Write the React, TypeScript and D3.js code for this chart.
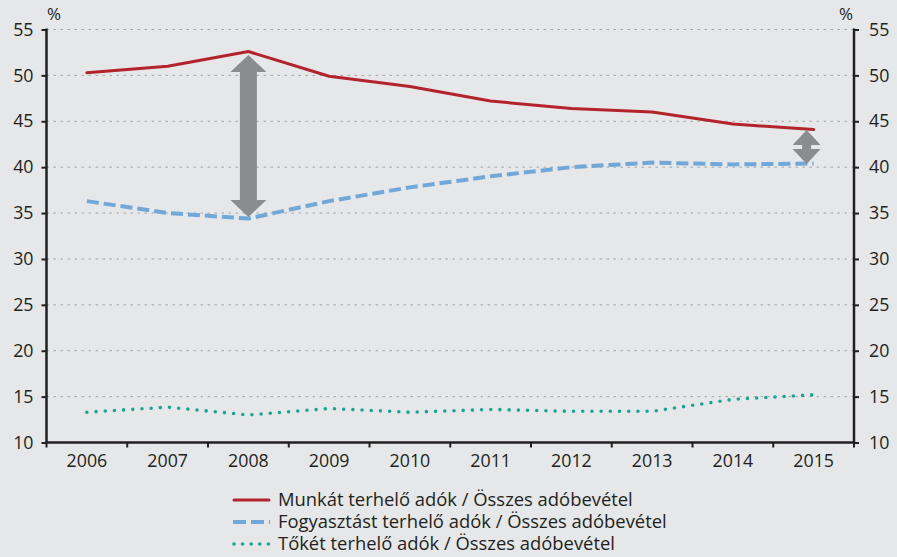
import React, { useEffect, useRef } from "react";
import * as d3 from "d3";

const years = ["2006", "2007", "2008", "2009", "2010", "2011", "2012", "2013", "2014", "2015"];
const munka = [50.3, 51.0, 52.6, 49.9, 48.8, 47.2, 46.4, 46.0, 44.7, 44.1];
const fogyasztas = [36.3, 35.0, 34.4, 36.3, 37.8, 39.0, 40.0, 40.5, 40.3, 40.4];
const toke = [13.3, 13.85, 13.0, 13.7, 13.3, 13.6, 13.4, 13.4, 14.7, 15.2];
const yTicks = [10, 15, 20, 25, 30, 35, 40, 45, 50, 55];
const seriesNames = [
	"Munkát terhelő adók / Összes adóbevétel",
	"Fogyasztást terhelő adók / Összes adóbevétel",
	"Tőkét terhelő adók / Összes adóbevétel",
];
// years where the gap between labour and consumption taxes is marked
const gapYears = ["2008", "2015"];

const W = 897;
const H = 557;
const FONT = "'Open Sans', 'DejaVu Sans', sans-serif";
const TXT = "#231f20";

const App = () => {
	const ref = useRef<SVGSVGElement>(null);

	useEffect(() => {
		const svg = d3.select(ref.current);
		svg.selectAll("*").remove();

		svg.append("rect").attr("width", W).attr("height", H).attr("fill", "#e6e7e8");

		const left = 46.5, right = 854, top = 29.5, bottom = 442.5;

		const x = d3.scaleBand<string>().domain(years).range([left, right]);
		const cx = (d: string) => (x(d) as number) + x.bandwidth() / 2;
		const y = d3.scaleLinear().domain([10, 55]).range([bottom, top]);

		// gridlines
		svg.append("g")
			.selectAll("line")
			.data(yTicks.filter(t => t > 10))
			.join("line")
			.attr("x1", left)
			.attr("x2", right)
			.attr("y1", d => y(d))
			.attr("y2", d => y(d))
			.attr("stroke", "#a3a4a6")
			.attr("stroke-width", 1)
			.attr("stroke-dasharray", "2.5 4.5");

		const gl = svg.append("g")
			.attr("transform", `translate(${left},0)`)
			.call(d3.axisLeft(y).tickValues(yTicks).tickSize(5).tickPadding(8));
		const gr = svg.append("g")
			.attr("transform", `translate(${right},0)`)
			.call(d3.axisRight(y).tickValues(yTicks).tickSize(5).tickPadding(10));
		const gb = svg.append("g")
			.attr("transform", `translate(0,${bottom})`)
			.call(d3.axisBottom(x).tickSize(0).tickPadding(12));
		gb.selectAll(".tick line").remove();
		// ticks sit on the category boundaries
		gb.selectAll(".btick")
			.data([...years.map(d => x(d) as number), right])
			.join("line")
			.attr("class", "btick")
			.attr("x1", d => d)
			.attr("x2", d => d)
			.attr("y1", 0)
			.attr("y2", 5)
			.attr("stroke", TXT)
			.attr("stroke-width", 2);

		[gl, gr, gb].forEach(g => {
			g.select(".domain").attr("stroke", TXT).attr("stroke-width", 2.5);
			g.selectAll(".tick line").attr("stroke", TXT).attr("stroke-width", 2);
			g.selectAll("text")
				.style("font-family", FONT)
				.style("font-size", "17.8px")
				.attr("fill", TXT);
		});
		gl.select(".domain").attr("d", `M0,${top - 1}V${bottom}`);
		gr.select(".domain").attr("d", `M0,${top - 1}V${bottom}`);
		gb.select(".domain").attr("d", `M${left},0H${right}`);

		["left", "right"].forEach(side => {
			svg.append("text")
				.attr("x", side === "left" ? 54 : 846)
				.attr("y", 20)
				.attr("text-anchor", "middle")
				.style("font-family", FONT)
				.style("font-size", "17px")
				.attr("fill", TXT)
				.text("%");
		});

		const styles = [
			{ color: "#b3232b", width: 3, dash: null as string | null, cap: "round" },
			{ color: "#6fa8d9", width: 4, dash: "12 5", cap: "butt" },
			{ color: "#19a596", width: 3.6, dash: "0 9.2", cap: "round" },
		];
		const allSeries = [munka, fogyasztas, toke];

		const line = d3.line<number>()
			.x((d, i) => cx(years[i]))
			.y(d => y(d));

		allSeries.forEach((s, i) => {
			const st = styles[i];
			const p = svg.append("path")
				.datum(s)
				.attr("fill", "none")
				.attr("stroke", st.color)
				.attr("stroke-width", st.width)
				.attr("stroke-linecap", st.cap)
				.attr("stroke-linejoin", "round")
				.attr("d", line);
			if (st.dash) p.attr("stroke-dasharray", st.dash);
		});

		// double-headed gap arrows
		const arrow = (xc: number, y1: number, y2: number, shaft: number, head: number, headH: number) => {
			const s = shaft / 2, h = head / 2;
			const d = `M${xc},${y1} L${xc + h},${y1 + headH} L${xc + s},${y1 + headH} L${xc + s},${y2 - headH} L${xc + h},${y2 - headH} L${xc},${y2} L${xc - h},${y2 - headH} L${xc - s},${y2 - headH} L${xc - s},${y1 + headH} L${xc - h},${y1 + headH} Z`;
			svg.append("path").attr("d", d).attr("fill", "#8b8c8f");
		};
		const i0 = years.indexOf(gapYears[0]);
		arrow(cx(gapYears[0]), y(munka[i0]) + 3.5, y(fogyasztas[i0]) - 1.5, 17, 36, 17);
		const i1 = years.indexOf(gapYears[1]);
		arrow(cx(gapYears[1]) - 7, y(munka[i1]) + 0.5, y(fogyasztas[i1]) + 0.5, 9, 28, 15);

		// legend
		const lg = svg.append("g");
		seriesNames.forEach((name, i) => {
			const st = styles[i];
			const ly = 500 + i * 22;
			const l = lg.append("line")
				.attr("x1", 234).attr("x2", 269)
				.attr("y1", ly).attr("y2", ly)
				.attr("stroke", st.color)
				.attr("stroke-width", st.width)
				.attr("stroke-linecap", "round");
			if (i === 1) l.attr("stroke-dasharray", "13 5").attr("stroke-linecap", "butt").attr("x1", 233).attr("x2", 270);
			if (i === 2) l.attr("stroke-dasharray", "0 8.6");
			lg.append("text")
				.attr("x", 278).attr("y", ly).attr("dy", "0.35em")
				.style("font-family", FONT)
				.style("font-size", "18.4px")
				.attr("fill", TXT)
				.text(name);
		});
	}, []);

	return (
		<svg ref={ref} width={W} height={H} style={{ position: "absolute", left: 0, top: 0, display: "block" }} />
	);
};

export default App;
